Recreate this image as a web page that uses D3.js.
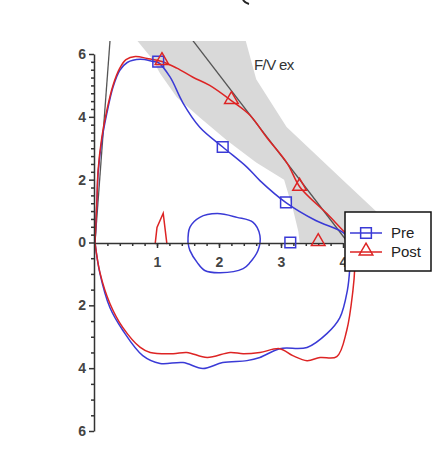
<!DOCTYPE html>
<html>
<head>
<meta charset="utf-8">
<script src="https://cdn.jsdelivr.net/npm/d3@7"></script>
<style>
  body { margin: 0; background: #fff; }
  text { font-family: "Liberation Sans", Arial, sans-serif; }
  .axis path, .axis line { stroke: #333; stroke-width: 1.5; }
  .axis text { fill: #444; font-size: 14px; font-weight: bold; }
</style>
</head>
<body>
<div id="chart"></div>
<script>
var svgWidth = 434;
var svgHeight = 474;

// flow-volume loops, volume (L) and flow (L/s), inspiration negative
var preVol  = [0, 0.03, 0.05, 0.11, 0.19, 0.29, 0.4, 0.52, 0.73, 0.94, 1.02, 1.21, 1.42, 1.69, 2.06, 2.45, 2.66, 3.08, 3.56, 4.0, 4.12,
               4.11, 4.07, 3.95, 3.74, 3.42, 2.98, 2.66, 2.45, 2.06, 1.74, 1.42, 1.05, 0.77, 0.45, 0.24, 0.08, 0];
var preFlow = [0, 1.24, 2.2, 3.25, 4.1, 4.94, 5.48, 5.73, 5.83, 5.76, 5.73, 5.27, 4.44, 3.67, 3.04, 2.4, 1.97, 1.27, 0.7, 0.32, 0,
               -0.8, -1.53, -2.39, -2.9, -3.34, -3.38, -3.66, -3.76, -3.82, -4.01, -3.82, -3.85, -3.6, -2.8, -2.07, -0.99, 0];

var postVol  = [0, 0.03, 0.05, 0.11, 0.19, 0.29, 0.4, 0.5, 0.65, 0.84, 1.08, 1.32, 1.58, 1.85, 2.21, 2.5, 2.77, 3.1, 3.31, 3.74, 4.0, 4.19,
                4.19, 4.16, 4.06, 3.9, 3.63, 3.42, 3.19, 2.98, 2.66, 2.39, 2.18, 1.81, 1.48, 1.26, 0.89, 0.73, 0.45, 0.24, 0.08, 0];
var postFlow = [0, 1.3, 2.3, 3.35, 4.2, 5.0, 5.55, 5.82, 5.92, 5.86, 5.76, 5.55, 5.26, 5.0, 4.5, 4.05, 3.34, 2.52, 1.75, 0.92, 0.38, 0,
                -0.8, -1.53, -2.8, -3.63, -3.66, -3.76, -3.6, -3.38, -3.5, -3.54, -3.5, -3.66, -3.5, -3.54, -3.5, -3.34, -2.71, -1.94, -0.96, 0];

// small red spike and blue loop near the axis
var spikeVol  = [0.97, 1.0, 1.1, 1.16];
var spikeFlow = [-0.05, 0.48, 0.93, -0.05];
var loopVol  = [1.5, 1.53, 1.69, 1.97, 2.29, 2.55, 2.66, 2.63, 2.5, 2.39, 2.02, 1.77, 1.65, 1.53, 1.5];
var loopFlow = [0, 0.48, 0.8, 0.92, 0.8, 0.64, 0.22, -0.25, -0.64, -0.83, -0.96, -0.89, -0.64, -0.25, 0];

// markers
var preMarkVol  = [1.02, 2.06, 3.08, 3.15];
var preMarkFlow = [5.76, 3.04, 1.28, 0];
var postMarkVol  = [1.08, 2.2, 3.3, 3.6];
var postMarkFlow = [5.76, 4.52, 1.76, 0];

// predicted band and reference lines
var bandVol  = [0.65, 0.92, 1.05, 1.32, 1.69, 2.13, 2.6, 3.05, 3.2, 3.28, 3.3, 4.9, 4.55, 4.0, 3.09, 2.6, 2.42];
var bandFlow = [6.5, 5.85, 5.38, 4.62, 3.98, 3.25, 2.55, 2.0, 1.0, 0.35, 0, 0, 0.96, 1.98, 3.68, 5.2, 6.5];
var refLines = [[[0, 0], [0.245, 6.5]], [[1.55, 6.5], [4.08, 0]]];

var xTicks = [1, 2, 3, 4];
var yTicks = [-6, -4, -2, 0, 2, 4, 6];
var seriesNames = ["Pre", "Post"];
var seriesColors = ["#3a3ad6", "#dd2424"];

///////////////////////////////////////////////////////////////////////

var svg = d3.select("#chart")
  .append("svg")
  .attr("width", svgWidth)
  .attr("height", svgHeight);

var xScale = d3.scaleLinear().domain([0, 4]).range([95, 343]);
var yScale = d3.scaleLinear().domain([-6, 6]).range([431, 54]);

svg.append("defs").append("clipPath")
  .attr("id", "clip")
  .append("rect")
  .attr("x", 0).attr("y", 41)
  .attr("width", svgWidth).attr("height", svgHeight - 41);

var plot = svg.append("g").attr("clip-path", "url(#clip)");

var bandPts = bandVol.map((v, i) => [xScale(v), yScale(bandFlow[i])]);
plot.append("path")
  .attr("d", "M" + bandPts.join("L") + "Z")
  .attr("fill", "#d9d9d9");

refLines.forEach(function(seg) {
  plot.append("line")
    .attr("x1", xScale(seg[0][0])).attr("y1", yScale(seg[0][1]))
    .attr("x2", xScale(seg[1][0])).attr("y2", yScale(seg[1][1]))
    .attr("stroke", "#555")
    .attr("stroke-width", 1.3);
});

// axes
var yAxis = d3.axisLeft(yScale)
  .tickValues(yTicks)
  .tickSize(5)
  .tickSizeOuter(0)
  .tickPadding(3)
  .tickFormat(d => Math.abs(d));

svg.append("g")
  .attr("class", "axis")
  .attr("transform", "translate(94,0)")
  .call(yAxis);

var yMinor = d3.range(0.25, 6, 0.25).filter(d => d % 2 !== 0)
  .concat(d3.range(-0.5, -6, -0.5).filter(d => d % 2 !== 0));
svg.append("g")
  .attr("class", "axis")
  .attr("transform", "translate(94,0)")
  .call(d3.axisLeft(yScale).tickValues(yMinor).tickSize(3).tickSizeOuter(0).tickFormat(""))
  .select(".domain").remove();

var xAxis = d3.axisBottom(xScale)
  .tickValues(xTicks)
  .tickSize(5)
  .tickSizeOuter(0)
  .tickPadding(9)
  .tickFormat(d3.format("d"));

svg.append("g")
  .attr("class", "axis")
  .attr("transform", "translate(0,243)")
  .call(xAxis);

svg.append("g")
  .attr("class", "axis")
  .attr("transform", "translate(0,243)")
  .call(d3.axisBottom(xScale).tickValues(d3.range(0.2, 4, 0.2)).tickSize(3).tickSizeOuter(0).tickFormat(""))
  .select(".domain").remove();

// loops
var smooth = d3.line()
  .x(d => xScale(d[0]))
  .y(d => yScale(d[1]))
  .curve(d3.curveCatmullRom.alpha(0.5));

function pairs(xs, ys) {
  return xs.map((v, i) => [v, ys[i]]);
}

plot.append("path")
  .datum(pairs(loopVol, loopFlow))
  .attr("d", smooth.curve(d3.curveCatmullRomClosed.alpha(0.5)))
  .attr("fill", "none")
  .attr("stroke", seriesColors[0])
  .attr("stroke-width", 1.5);

smooth.curve(d3.curveCatmullRom.alpha(0.5));

plot.append("path")
  .datum(pairs(preVol, preFlow))
  .attr("d", smooth)
  .attr("fill", "none")
  .attr("stroke", seriesColors[0])
  .attr("stroke-width", 1.5);

plot.append("path")
  .datum(pairs(postVol, postFlow))
  .attr("d", smooth)
  .attr("fill", "none")
  .attr("stroke", seriesColors[1])
  .attr("stroke-width", 1.5);

plot.append("path")
  .datum(pairs(spikeVol, spikeFlow))
  .attr("d", d3.line().x(d => xScale(d[0])).y(d => yScale(d[1])))
  .attr("fill", "none")
  .attr("stroke", seriesColors[1])
  .attr("stroke-width", 1.5);

// markers
var square = d3.symbol().type(d3.symbolSquare).size(115);
var triangle = d3.symbol().type(d3.symbolTriangle).size(80);

svg.selectAll(".preMark")
  .data(pairs(preMarkVol, preMarkFlow))
  .enter()
  .append("path")
  .attr("class", "preMark")
  .attr("d", square)
  .attr("transform", d => `translate(${xScale(d[0])},${yScale(d[1])})`)
  .attr("fill", "none")
  .attr("stroke", seriesColors[0])
  .attr("stroke-width", 1.5);

svg.selectAll(".postMark")
  .data(pairs(postMarkVol, postMarkFlow))
  .enter()
  .append("path")
  .attr("class", "postMark")
  .attr("d", triangle)
  .attr("transform", d => `translate(${xScale(d[0])},${yScale(d[1]) - 1})`)
  .attr("fill", "none")
  .attr("stroke", seriesColors[1])
  .attr("stroke-width", 1.5);

// label
svg.append("text")
  .attr("x", 254)
  .attr("y", 70)
  .attr("font-size", "15px")
  .attr("letter-spacing", "-0.6")
  .attr("fill", "#333")
  .text("F/V ex");

// bit of a cut-off bracket at the top edge of the frame
svg.append("path")
  .attr("d", "M243,0 Q245,3 249,4")
  .attr("fill", "none")
  .attr("stroke", "#222")
  .attr("stroke-width", 2);

// legend
var legend = svg.append("g").attr("transform", "translate(345,212)");
legend.append("rect")
  .attr("width", 86)
  .attr("height", 59)
  .attr("fill", "#fff")
  .attr("stroke", "#111")
  .attr("stroke-width", 1.5);

seriesNames.forEach(function(name, i) {
  var yy = 21 + i * 19;
  legend.append("line")
    .attr("x1", 5).attr("x2", 37)
    .attr("y1", yy).attr("y2", yy)
    .attr("stroke", seriesColors[i])
    .attr("stroke-width", 1.5);
  legend.append("path")
    .attr("d", i === 0 ? square : triangle)
    .attr("transform", `translate(21,${yy - (i === 0 ? 0 : 1)})`)
    .attr("fill", "none")
    .attr("stroke", seriesColors[i])
    .attr("stroke-width", 1.5);
  legend.append("text")
    .attr("x", 46)
    .attr("y", yy)
    .attr("dy", "0.35em")
    .attr("font-size", "15px")
    .attr("fill", "#222")
    .text(name);
});
</script>
</body>
</html>
